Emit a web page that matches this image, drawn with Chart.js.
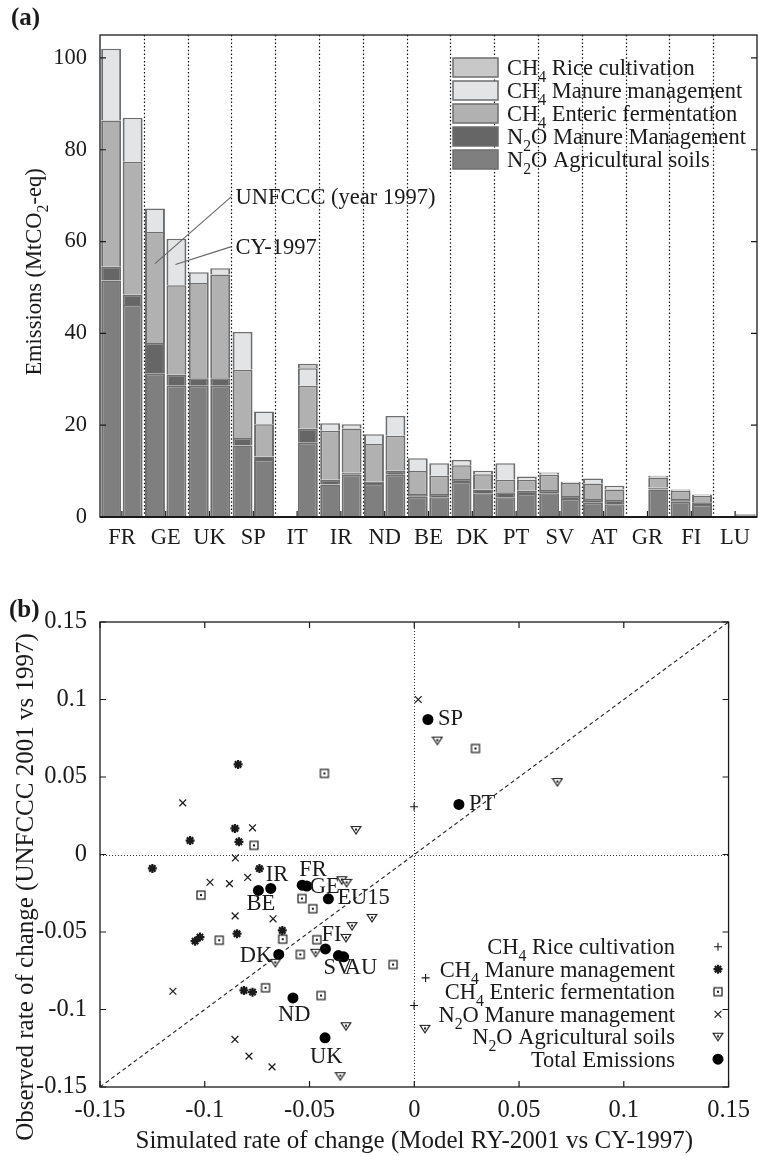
<!DOCTYPE html>
<html>
<head>
<meta charset="utf-8">
<script src="https://cdn.jsdelivr.net/npm/chart.js@4.4.1/dist/chart.umd.min.js"></script>
<style>
html, body { margin: 0; padding: 0; background: #fff; }
#wrapA { position: absolute; left: 0; top: 0; width: 759px; height: 580px; }
#wrapB { position: absolute; left: 0; top: 580px; width: 759px; height: 576px; }
</style>
</head>
<body>
<div id="wrapA"><canvas id="chartA" width="759" height="580"></canvas></div>
<div id="wrapB"><canvas id="chartB" width="759" height="576"></canvas></div>
<script>
// ---- (a) 국가별 농업 배출량 (MtCO2-eq) ----
const countries = ['FR', 'GE', 'UK', 'SP', 'IT', 'IR', 'ND', 'BE', 'DK', 'PT', 'SV', 'AT', 'GR', 'FI', 'LU'];
const sourceNames = ['N₂O Agricultural soils', 'N₂O Manure Management', 'CH₄ Enteric fermentation', 'CH₄ Manure management', 'CH₄ Rice cultivation'];

// UNFCCC (year 1997)
const unSoils   = [51.5, 31.2, 28.6, 15.6, 0, 7.1, 7.2, 4.4, 7.6, 4.3, 5.2, 3.1, 0, 3.3, 0];
const unN2oMan  = [3.0, 6.7, 1.6, 1.6, 0, 1.0, 0.5, 0.6, 0.7, 1.1, 0.7, 0.8, 0, 0.6, 0];
const unEnteric = [31.9, 24.2, 20.8, 14.9, 0, 10.7, 8.2, 5.0, 3.0, 2.7, 3.3, 3.4, 0, 1.8, 0];
const unCh4Man  = [15.6, 5.1, 2.3, 8.2, 0, 1.6, 2.1, 2.8, 1.1, 3.6, 0.5, 1.1, 0, 0.3, 0];
const unRice    = [0, 0, 0, 0, 0, 0, 0, 0, 0, 0, 0, 0, 0, 0, 0];

// CY-1997
const cySoils   = [46.2, 28.6, 28.6, 12.4, 16.2, 9.2, 9.2, 4.3, 5.2, 5.0, 3.9, 2.8, 6.0, 2.6, 0.4];
const cyN2oMan  = [2.2, 2.4, 1.6, 0.8, 3.0, 0.5, 0.9, 0.7, 0.8, 0.7, 0.7, 0.9, 0.4, 0.6, 0];
const cyEnteric = [29.0, 19.5, 22.6, 7.0, 9.4, 9.6, 7.6, 4.0, 3.3, 2.4, 2.8, 2.3, 2.2, 1.4, 0.2];
const cyCh4Man  = [9.6, 10.1, 1.4, 2.8, 3.8, 0.9, 4.3, 2.7, 0.8, 0.7, 0.3, 0.8, 0.4, 0.3, 0];
const cyRice    = [0, 0, 0, 0, 1.0, 0, 0, 0, 0, 0, 0, 0, 0, 0, 0];

const yTicksA = [0, 20, 40, 60, 80, 100];

// ---- (b) 변화율: 모델 vs 관측 ----
const riceX = [0.0054, -0.0001, -0.0001];
const riceY = [-0.0796, -0.0974, 0.0308];
const ch4ManX = [-0.0841, -0.0856, -0.1070, -0.0837, -0.1250, -0.0739, -0.1046, -0.1023, -0.0846, -0.0630, -0.0813, -0.0772];
const ch4ManY = [0.0581, 0.0168, 0.0090, 0.0082, -0.0090, -0.0091, -0.0559, -0.0533, -0.0511, -0.0490, -0.0877, -0.0888];
const entericX = [-0.0429, -0.0765, -0.1018, -0.0536, -0.0484, -0.0931, -0.0628, -0.0465, -0.0544, -0.0101, -0.0710, -0.0445, 0.0292];
const entericY = [0.0523, 0.0059, -0.0262, -0.0284, -0.0350, -0.0553, -0.0546, -0.0550, -0.0645, -0.0710, -0.0860, -0.0910, 0.0684];
const n2oManX = [-0.1105, -0.0772, -0.0854, -0.0795, -0.0975, -0.0882, -0.0855, -0.0674, -0.1152, -0.0856, -0.0789, -0.0679, 0.0019];
const n2oManY = [0.0333, 0.0172, -0.0022, -0.0148, -0.0179, -0.0188, -0.0396, -0.0415, -0.0882, -0.1193, -0.1301, -0.1370, 0.1000];
const soilsX = [-0.0278, -0.0346, -0.0323, -0.0202, -0.0297, -0.0326, -0.0471, -0.0663, -0.0326, -0.0353, 0.0051, 0.0110, 0.0683];
const soilsY = [0.0158, -0.0166, -0.0183, -0.0409, -0.0462, -0.0538, -0.0634, -0.0699, -0.1108, -0.1430, -0.1125, 0.0735, 0.0467];
const totalNames = ['IR', 'BE', 'FR', 'GE', 'EU15', 'FI', 'DK', 'SV', 'AU', 'ND', 'UK', 'SP', 'PT'];
const totalX = [-0.0685, -0.0744, -0.0535, -0.0513, -0.0410, -0.0424, -0.0647, -0.0362, -0.0337, -0.0579, -0.0426, 0.0065, 0.0213];
const totalY = [-0.0219, -0.0232, -0.0198, -0.0204, -0.0286, -0.0609, -0.0645, -0.0652, -0.0660, -0.0925, -0.1183, 0.0871, 0.0323];
const diagonal = [-0.15, 0.15];

const xTicksB = [-0.15, -0.1, -0.05, 0, 0.05, 0.1, 0.15];
const xTickLabelsB = ['-0.15', '-0.1', '-0.05', '0', '0.05', '0.1', '0.15'];
const yTicksB = [-0.15, -0.1, -0.05, 0, 0.05, 0.1, 0.15];
const yTickLabelsB = ['-0.15', '-0.1', '-0.05', '0', '0.05', '0.1', '0.15'];

// ---- 스타일 ----
const FONT = 'Liberation Serif';
const FS = 22.5;      // (a) 전체, (b) 범례/라벨
const FS_TICK_B = 24.5;
const FS_TITLE_B = 25;
const INK = '#1a1a1a';
const sourceColors = ['#7f7f7f', '#666666', '#b1b1b1', '#e3e4e6', '#c8c8c8'];
const barBorder = '#6e6e6e';

// 아래첨자(₀-₉)를 작은 글자로 그리는 함수
const SUBS = '₀₁₂₃₄₅₆₇₈₉';
function drawRich(ctx, text, x, y, size, align) {
    const runs = [];
    for (const ch of text) {
        const k = SUBS.indexOf(ch);
        const sub = k >= 0;
        const c = sub ? String(k) : ch;
        if (runs.length && runs[runs.length - 1].sub === sub) runs[runs.length - 1].t += c;
        else runs.push({ t: c, sub: sub });
    }
    let w = 0;
    runs.forEach(r => {
        ctx.font = (r.sub ? size * 0.7 : size) + 'px "' + FONT + '"';
        r.w = ctx.measureText(r.t).width;
        w += r.w;
    });
    let cx = align === 'right' ? x - w : (align === 'center' ? x - w / 2 : x);
    ctx.textAlign = 'left';
    ctx.textBaseline = 'alphabetic';
    runs.forEach(r => {
        ctx.font = (r.sub ? size * 0.7 : size) + 'px "' + FONT + '"';
        ctx.fillText(r.t, cx, y + (r.sub ? size * 0.32 : 0));
        cx += r.w;
    });
}

function drawBoxAndTicks(chart, xTickPixels, yTickPixels, opts) {
    const ctx = chart.ctx;
    const a = chart.chartArea;
    ctx.save();
    ctx.strokeStyle = INK;
    ctx.lineWidth = 1.3;
    ctx.strokeRect(a.left, a.top, a.right - a.left, a.bottom - a.top);
    if (opts.thickBottom) {
        ctx.lineWidth = 2.2;
        ctx.beginPath();
        ctx.moveTo(a.left, a.bottom);
        ctx.lineTo(a.right, a.bottom);
        ctx.stroke();
    }
    ctx.lineWidth = 1.2;
    const L = 6;
    ctx.beginPath();
    xTickPixels.forEach(px => {
        ctx.moveTo(px, a.bottom); ctx.lineTo(px, a.bottom - L);
        if (opts.topTicks) { ctx.moveTo(px, a.top); ctx.lineTo(px, a.top + L); }
    });
    yTickPixels.forEach(py => {
        ctx.moveTo(a.left, py); ctx.lineTo(a.left + L, py);
        ctx.moveTo(a.right, py); ctx.lineTo(a.right - L, py);
    });
    ctx.stroke();
    ctx.restore();
}

function panelTag(ctx, text, x, y) {
    ctx.fillStyle = INK;
    ctx.font = 'bold 25px "' + FONT + '"';
    ctx.textAlign = 'left';
    ctx.textBaseline = 'alphabetic';
    ctx.fillText(text, x, y);
}

// ---- (a) 막대 차트 ----
const unSeries = [unSoils, unN2oMan, unEnteric, unCh4Man, unRice];
const cySeries = [cySoils, cyN2oMan, cyEnteric, cyCh4Man, cyRice];
const barDatasets = [];
unSeries.forEach((d, i) => barDatasets.push({
    label: sourceNames[i], data: d, stack: 'UNFCCC',
    backgroundColor: sourceColors[i]
}));
cySeries.forEach((d, i) => barDatasets.push({
    label: sourceNames[i], data: d, stack: 'CY-1997',
    backgroundColor: sourceColors[i]
}));
barDatasets.forEach(ds => {
    ds.borderColor = barBorder;
    ds.borderWidth = { left: 2, right: 2, top: 1.5, bottom: 0 };
    ds.borderSkipped = 'start';
    ds.categoryPercentage = 0.98;
    ds.barPercentage = 0.93;
});

const panelAPlugin = {
    id: 'panelA',
    beforeDatasetsDraw(chart) {
        const ctx = chart.ctx, a = chart.chartArea, xs = chart.scales.x;
        ctx.save();
        ctx.strokeStyle = '#111';
        ctx.lineWidth = 1.2;
        ctx.setLineDash([1.5, 2.2]);
        ctx.beginPath();
        for (let i = 0; i < countries.length - 1; i++) {
            const px = Math.round((xs.getPixelForValue(i) + xs.getPixelForValue(i + 1)) / 2) + 0.5;
            ctx.moveTo(px, a.top); ctx.lineTo(px, a.bottom);
        }
        ctx.stroke();
        ctx.restore();
    },
    afterDatasetsDraw(chart) {
        const ctx = chart.ctx, a = chart.chartArea, xs = chart.scales.x, ys = chart.scales.y;
        drawBoxAndTicks(chart,
            countries.map((c, i) => xs.getPixelForValue(i)),
            yTicksA.map(v => ys.getPixelForValue(v)),
            { thickBottom: true, topTicks: false });

        // UNFCCC / CY-1997 표시
        const sx = (xs.getPixelForValue(2) + xs.getPixelForValue(3)) / 2;
        const unBar = chart.getDatasetMeta(0).data[1];
        const cyBar = chart.getDatasetMeta(5).data[1];
        ctx.save();
        ctx.strokeStyle = '#666';
        ctx.lineWidth = 1.1;
        ctx.beginPath();
        ctx.moveTo(sx, ys.getPixelForValue(69.8)); ctx.lineTo(unBar.x, ys.getPixelForValue(55.2));
        ctx.moveTo(sx, ys.getPixelForValue(58.9)); ctx.lineTo(cyBar.x - 1, ys.getPixelForValue(55.0));
        ctx.stroke();
        ctx.fillStyle = INK;
        drawRich(ctx, 'UNFCCC (year 1997)', sx + 4, ys.getPixelForValue(68.2), FS, 'left');
        drawRich(ctx, 'CY-1997', sx + 4, ys.getPixelForValue(57.4), FS, 'left');

        // 범례
        const bx = 453, bw = 45, bh = 19;
        for (let k = 0; k < 5; k++) {
            const idx = 4 - k;
            const top = 58 + 23 * k;
            ctx.fillStyle = sourceColors[idx];
            ctx.fillRect(bx, top, bw, bh);
            ctx.strokeStyle = barBorder;
            ctx.lineWidth = 1.5;
            ctx.strokeRect(bx, top, bw, bh);
            ctx.fillStyle = INK;
            drawRich(ctx, sourceNames[idx], 507, top + 16.5, FS, 'left');
        }

        // 패널 표시 & y축 제목
        panelTag(ctx, '(a)', 11, 25);
        ctx.fillStyle = INK;
        ctx.save();
        ctx.translate(41, (a.top + a.bottom) / 2 - 4);
        ctx.rotate(-Math.PI / 2);
        drawRich(ctx, 'Emissions (MtCO₂-eq)', 0, 0, FS, 'center');
        ctx.restore();
        ctx.restore();
    }
};

new Chart(document.getElementById('chartA'), {
    type: 'bar',
    data: { labels: countries, datasets: barDatasets },
    options: {
        responsive: false,
        animation: false,
        layout: { padding: { top: 35, right: 2, left: 0, bottom: 0 } },
        plugins: { legend: { display: false }, tooltip: { enabled: false } },
        scales: {
            x: {
                stacked: true,
                grid: { display: false, drawTicks: false },
                border: { display: false },
                ticks: { color: INK, font: { family: FONT, size: FS }, padding: 8, maxRotation: 0, autoSkip: false },
                afterFit: s => { s.height = 63; }
            },
            y: {
                stacked: true,
                min: 0,
                max: 105,
                grid: { display: false, drawTicks: false },
                border: { display: false },
                ticks: { color: INK, font: { family: FONT, size: FS }, padding: 13 },
                afterBuildTicks: s => { s.ticks = yTicksA.map(v => ({ value: v })); },
                afterFit: s => { s.width = 100; }
            }
        }
    },
    plugins: [panelAPlugin]
});

// ---- (b) 산점도 ----
function markImg(kind) {
    const c = document.createElement('canvas');
    c.width = 12; c.height = 12;
    const g = c.getContext('2d');
    g.strokeStyle = INK; g.fillStyle = '#fff'; g.lineWidth = 1.2;
    if (kind === 'square') {
        g.fillRect(2, 2, 8, 8); g.strokeRect(2, 2, 8, 8);
        g.fillStyle = INK; g.fillRect(5, 5, 2, 2);
    } else {
        g.beginPath(); g.moveTo(1.2, 2.5); g.lineTo(10.8, 2.5); g.lineTo(6, 10); g.closePath();
        g.fill(); g.stroke();
        g.fillStyle = INK; g.fillRect(5, 4.5, 2, 2);
    }
    return c;
}
const squareImg = markImg('square');
const triImg = markImg('tri');

function pts(xs, ys) { return xs.map((x, i) => ({ x: x, y: ys[i] })); }

const scatterDatasets = [
    { label: 'CH₄ Rice cultivation', data: pts(riceX, riceY), pointStyle: 'cross', pointRadius: 4, borderWidth: 1.1 },
    { label: 'CH₄ Manure management', data: pts(ch4ManX, ch4ManY), pointStyle: 'star', pointRadius: 4.5, borderWidth: 2.2 },
    { label: 'CH₄ Enteric fermentation', data: pts(entericX, entericY), pointStyle: squareImg },
    { label: 'N₂O Manure management', data: pts(n2oManX, n2oManY), pointStyle: 'crossRot', pointRadius: 4.8, borderWidth: 1.2 },
    { label: 'N₂O Agricultural soils', data: pts(soilsX, soilsY), pointStyle: triImg },
    { label: 'Total Emissions', data: pts(totalX, totalY), pointStyle: 'circle', pointRadius: 5.5, backgroundColor: '#000', borderWidth: 0 }
];
scatterDatasets.forEach(ds => {
    ds.borderColor = ds.borderColor || INK;
    ds.backgroundColor = ds.backgroundColor || INK;
});
scatterDatasets.push({
    type: 'line', label: 'y = x', data: pts(diagonal, diagonal),
    borderColor: '#222', borderWidth: 1.1, borderDash: [4, 3], pointRadius: 0, showLine: true
});

// 총배출량 라벨 위치 (점 기준 왼쪽 끝/기준선 오프셋)
const labelDx = { IR: -5, BE: -12, FR: -3, GE: 3, EU15: 9, FI: -4, DK: -39, SV: -15, AU: 1, ND: -15, UK: -15, SP: 10, PT: 10 };
const labelDy = { IR: -7.5, BE: 20, FR: -9, GE: 6.5, EU15: 5, FI: -8, DK: 8, SV: 18, AU: 17, ND: 23, UK: 25, SP: 5.5, PT: 5.5 };

const panelBPlugin = {
    id: 'panelB',
    beforeDatasetsDraw(chart) {
        const ctx = chart.ctx, a = chart.chartArea, xs = chart.scales.x, ys = chart.scales.y;
        const x0 = Math.round(xs.getPixelForValue(0)) + 0.5;
        const y0 = Math.round(ys.getPixelForValue(0)) + 0.5;
        ctx.save();
        ctx.strokeStyle = '#333';
        ctx.lineWidth = 1;
        ctx.setLineDash([1, 2]);
        ctx.beginPath();
        ctx.moveTo(x0, a.top); ctx.lineTo(x0, a.bottom);
        ctx.moveTo(a.left, y0); ctx.lineTo(a.right, y0);
        ctx.stroke();
        ctx.restore();
    },
    afterDatasetsDraw(chart) {
        const ctx = chart.ctx, xs = chart.scales.x, ys = chart.scales.y;
        drawBoxAndTicks(chart,
            xTicksB.map(v => xs.getPixelForValue(v)),
            yTicksB.map(v => ys.getPixelForValue(v)),
            { thickBottom: false, topTicks: true });
        ctx.save();
        ctx.fillStyle = INK;
        // 국가 라벨
        totalNames.forEach((n, i) => {
            const px = xs.getPixelForValue(totalX[i]);
            const py = ys.getPixelForValue(totalY[i]);
            drawRich(ctx, n, px + labelDx[n], py + labelDy[n], FS, 'left');
        });
        // 범례
        for (let k = 0; k < 6; k++) {
            const ds = scatterDatasets[k];
            const cy = 366.7 + 22.5 * k;
            ctx.fillStyle = INK;
            drawRich(ctx, ds.label, 675, cy + 7.5, FS, 'right');
            ctx.strokeStyle = INK;
            ctx.fillStyle = ds.backgroundColor;
            ctx.lineWidth = ds.borderWidth === undefined ? 1 : ds.borderWidth;
            Chart.helpers.drawPoint(ctx, {
                pointStyle: ds.pointStyle, radius: ds.pointRadius || 4,
                rotation: 0, borderWidth: ds.borderWidth === undefined ? 1 : ds.borderWidth
            }, 718, cy);
        }
        // 패널 표시 & y축 제목
        panelTag(ctx, '(b)', 9, 37);
        ctx.fillStyle = INK;
        ctx.save();
        ctx.translate(33, 307);
        ctx.rotate(-Math.PI / 2);
        drawRich(ctx, 'Observed rate of change (UNFCCC 2001 vs 1997)', 0, 0, FS_TITLE_B, 'center');
        ctx.restore();
        ctx.restore();
    }
};

new Chart(document.getElementById('chartB'), {
    type: 'scatter',
    data: { datasets: scatterDatasets },
    options: {
        responsive: false,
        animation: false,
        layout: { padding: { top: 42, right: 28, left: 0, bottom: 0 } },
        plugins: { legend: { display: false }, tooltip: { enabled: false } },
        scales: {
            x: {
                type: 'linear', min: -0.15, max: 0.15,
                grid: { display: false, drawTicks: false },
                border: { display: false },
                ticks: {
                    color: INK, font: { family: FONT, size: FS_TICK_B }, padding: 9, maxRotation: 0,
                    callback: (v, i) => xTickLabelsB[i]
                },
                afterBuildTicks: s => { s.ticks = xTicksB.map(v => ({ value: v })); },
                title: {
                    display: true, text: 'Simulated rate of change (Model RY-2001 vs CY-1997)',
                    color: INK, font: { family: FONT, size: FS_TITLE_B }, padding: { top: 0, bottom: 0 }
                },
                afterFit: s => { s.height = 69; }
            },
            y: {
                type: 'linear', min: -0.15, max: 0.15,
                grid: { display: false, drawTicks: false },
                border: { display: false },
                ticks: {
                    color: INK, font: { family: FONT, size: FS_TICK_B }, padding: 13,
                    callback: (v, i) => yTickLabelsB[i]
                },
                afterBuildTicks: s => { s.ticks = yTicksB.map(v => ({ value: v })); },
                afterFit: s => { s.width = 100; }
            }
        }
    },
    plugins: [panelBPlugin]
});
</script>
</body>
</html>
